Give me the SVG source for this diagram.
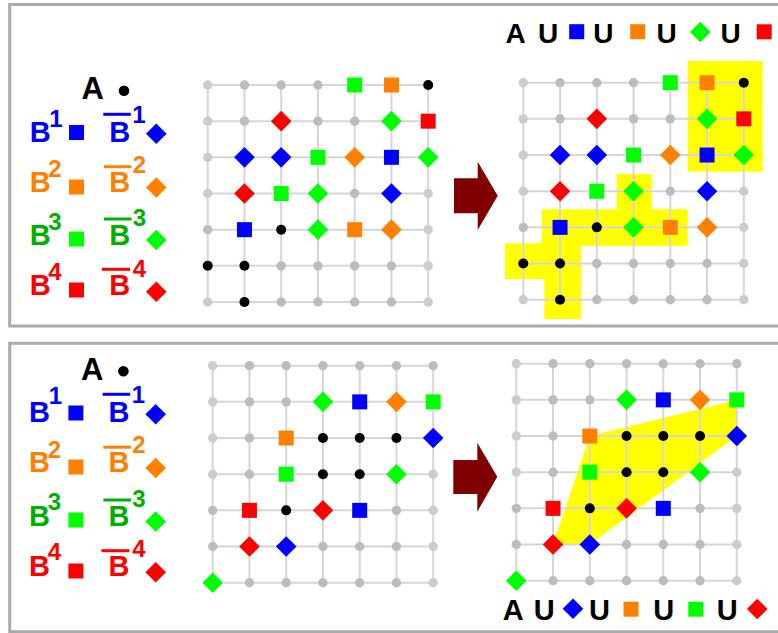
<svg xmlns="http://www.w3.org/2000/svg" xmlns:xlink="http://www.w3.org/1999/xlink" width="778" height="633" viewBox="0 0 778 633">
<defs>
<style>
text{font-family:"Liberation Sans",Arial,sans-serif;font-weight:bold}
.frame{fill:none;stroke:#aaaaaa;stroke-width:3}
.grid{fill:none;stroke:#d6d6d6;stroke-width:2}
.g{fill:#bcbcbc}
.gl{fill:#cccccc}
.k{fill:#000000}
.b{fill:#0000ff}.o{fill:#ff8000}.gr{fill:#00ff00}.r{fill:#ff0000}
.tb{fill:#0000ff}.to{fill:#ff8000}.tg{fill:#00b000}.tr{fill:#ff0000}
.B{font-size:29px;text-anchor:middle}
.S{font-size:24px}
.hl{fill:#ffff00}
.arrow{fill:#800000}
</style>
<rect id="sq" x="-7.5" y="-7.5" width="15" height="15"/>
<path id="dm" d="M0,-10.3L10.3,0L0,10.3L-10.3,0Z"/>
<path id="gridlines" d="M0,0H220.5M0,36.17H220.5M0,72.33H220.5M0,108.5H220.5M0,144.67H220.5M0,180.83H220.5M0,217H220.5M0,0V217M36.75,0V217M73.5,0V217M110.25,0V217M147,0V217M183.75,0V217M220.5,0V217"/>
</defs>
<rect width="778" height="633" fill="#ffffff"/>
<g id="frames">
<rect class="frame" x="9.7" y="4.5" width="800" height="321.5"/>
<rect class="frame" x="9.7" y="343.3" width="800" height="288.4"/>
</g>

<g id="legend-top">
<text x="92.7" y="99" font-size="31" text-anchor="middle">A</text>
<circle class="k" cx="124" cy="90.7" r="5.3"/>
<g id="leg-top-b1">
<text class="tb B" x="40.2" y="141.5">B<tspan class="S" x="56" y="126.5">1</tspan></text>
<use xlink:href="#sq" class="b" x="76.5" y="132.5"/>
<rect class="b" x="103.3" y="112.8" width="27.5" height="3"/>
<text class="tb B" x="119.7" y="141.5">B<tspan class="S" x="139" y="123.3">1</tspan></text>
<use xlink:href="#dm" class="b" x="156.3" y="133.7"/>
</g>
<g id="leg-top-b2">
<text class="to B" x="40.2" y="191.5">B<tspan class="S" x="55" y="177">2</tspan></text>
<use xlink:href="#sq" class="o" x="76.5" y="187"/>
<rect class="o" x="104" y="165.2" width="27.5" height="3"/>
<text class="to B" x="119.7" y="191.5">B<tspan class="S" x="139.5" y="173">2</tspan></text>
<use xlink:href="#dm" class="o" x="156.3" y="187.5"/>
</g>
<g id="leg-top-b3">
<text class="tg B" x="40.2" y="245">B<tspan class="S" x="55" y="230">3</tspan></text>
<use xlink:href="#sq" class="gr" x="76.5" y="239"/>
<rect class="tg" x="104" y="217.5" width="27.5" height="3"/>
<text class="tg B" x="119.7" y="245">B<tspan class="S" x="139.5" y="226">3</tspan></text>
<use xlink:href="#dm" class="gr" x="156.3" y="240"/>
</g>
<g id="leg-top-b4">
<text class="tr B" x="40.2" y="295">B<tspan class="S" x="55" y="280">4</tspan></text>
<use xlink:href="#sq" class="r" x="76.5" y="290"/>
<rect class="r" x="102" y="267.8" width="28" height="3"/>
<text class="tr B" x="119.7" y="295">B<tspan class="S" x="139.5" y="277">4</tspan></text>
<use xlink:href="#dm" class="r" x="156.3" y="291.7"/>
</g>
</g>

<g id="grid-top-left" transform="translate(207.7,85)">
<g class="connectors"><use xlink:href="#gridlines" class="grid"/></g>
<g class="points">
<circle class="gl" cx="0" cy="0" r="4.7"/><circle class="g" cx="36.75" cy="0" r="4.7"/><circle class="g" cx="73.5" cy="0" r="4.7"/><circle class="g" cx="110.25" cy="0" r="4.7"/>
<use xlink:href="#sq" class="gr" x="147" y="0"/><use xlink:href="#sq" class="o" x="183.75" y="0"/><circle class="k" cx="220.5" cy="0" r="5"/>
<circle class="gl" cx="0" cy="36.17" r="4.7"/><circle class="g" cx="36.75" cy="36.17" r="4.7"/><use xlink:href="#dm" class="r" x="73.5" y="36.17"/><circle class="g" cx="110.25" cy="36.17" r="4.7"/><circle class="g" cx="147" cy="36.17" r="4.7"/><use xlink:href="#dm" class="gr" x="183.75" y="36.17"/><use xlink:href="#sq" class="r" x="220.5" y="36.17"/>
<circle class="gl" cx="0" cy="72.33" r="4.7"/><use xlink:href="#dm" class="b" x="36.75" y="72.33"/><use xlink:href="#dm" class="b" x="73.5" y="72.33"/><use xlink:href="#sq" class="gr" x="110.25" y="72.33"/><use xlink:href="#dm" class="o" x="147" y="72.33"/><use xlink:href="#sq" class="b" x="183.75" y="72.33"/><use xlink:href="#dm" class="gr" x="220.5" y="72.33"/>
<circle class="gl" cx="0" cy="108.5" r="4.7"/><use xlink:href="#dm" class="r" x="36.75" y="108.5"/><use xlink:href="#sq" class="gr" x="73.5" y="108.5"/><use xlink:href="#dm" class="gr" x="110.25" y="108.5"/><circle class="g" cx="147" cy="108.5" r="4.7"/><use xlink:href="#dm" class="b" x="183.75" y="108.5"/><circle class="gl" cx="220.5" cy="108.5" r="4.7"/>
<circle class="g" cx="0" cy="144.67" r="4.7"/><use xlink:href="#sq" class="b" x="36.75" y="144.67"/><circle class="k" cx="73.5" cy="144.67" r="5"/><use xlink:href="#dm" class="gr" x="110.25" y="144.67"/><use xlink:href="#sq" class="o" x="147" y="144.67"/><use xlink:href="#dm" class="o" x="183.75" y="144.67"/><circle class="gl" cx="220.5" cy="144.67" r="4.7"/>
<circle class="k" cx="0" cy="180.83" r="5"/><circle class="k" cx="36.75" cy="180.83" r="5"/><circle class="g" cx="73.5" cy="180.83" r="4.7"/><circle class="g" cx="110.25" cy="180.83" r="4.7"/><circle class="g" cx="147" cy="180.83" r="4.7"/><circle class="g" cx="183.75" cy="180.83" r="4.7"/><circle class="gl" cx="220.5" cy="180.83" r="4.7"/>
<circle class="gl" cx="0" cy="217" r="4.7"/><circle class="k" cx="36.75" cy="217" r="5"/><circle class="g" cx="73.5" cy="217" r="4.7"/><circle class="g" cx="110.25" cy="217" r="4.7"/><circle class="g" cx="147" cy="217" r="4.7"/><circle class="g" cx="183.75" cy="217" r="4.7"/><circle class="gl" cx="220.5" cy="217" r="4.7"/>
</g>
</g>

<polygon id="arrow-top" class="arrow" points="454,178.3 477.7,178.3 477.7,161.7 497.7,195.8 477.7,230 477.7,213.3 454,213.3"/>

<g id="header-top">
<text x="515.5" y="43.3" font-size="28" text-anchor="middle">A</text>
<text x="548" y="43.3" font-size="28" text-anchor="middle">U</text>
<use xlink:href="#sq" class="b" x="576.7" y="31.7"/>
<text x="603.3" y="43.3" font-size="28" text-anchor="middle">U</text>
<use xlink:href="#sq" class="o" x="637.7" y="31.7"/>
<text x="666.7" y="43.3" font-size="28" text-anchor="middle">U</text>
<use xlink:href="#dm" class="gr" x="700.3" y="32"/>
<text x="730.5" y="43.3" font-size="28" text-anchor="middle">U</text>
<use xlink:href="#sq" class="r" x="764.2" y="31.8"/>
</g>

<g id="highlight-top">
<rect class="hl" x="687.7" y="61" width="75" height="110.7"/>
<polygon class="hl" points="616.7,174 651.7,174 651.7,209.3 687.7,209.3 687.7,245.7 581,245.7 581,319 544.3,319 544.3,279 505,279 505,243.3 541.7,243.3 541.7,209.3 616.7,209.3"/>
</g>

<g id="grid-top-right" transform="translate(523.3,82.7)">
<g class="connectors"><use xlink:href="#gridlines" class="grid"/></g>
<g class="points">
<circle class="gl" cx="0" cy="0" r="4.7"/><circle class="g" cx="36.75" cy="0" r="4.7"/><circle class="g" cx="73.5" cy="0" r="4.7"/><circle class="g" cx="110.25" cy="0" r="4.7"/>
<use xlink:href="#sq" class="gr" x="147" y="0"/><use xlink:href="#sq" class="o" x="183.75" y="0"/><circle class="k" cx="220.5" cy="0" r="5"/>
<circle class="gl" cx="0" cy="36.17" r="4.7"/><circle class="g" cx="36.75" cy="36.17" r="4.7"/><use xlink:href="#dm" class="r" x="73.5" y="36.17"/><circle class="g" cx="110.25" cy="36.17" r="4.7"/><circle class="g" cx="147" cy="36.17" r="4.7"/><use xlink:href="#dm" class="gr" x="183.75" y="36.17"/><use xlink:href="#sq" class="r" x="220.5" y="36.17"/>
<circle class="gl" cx="0" cy="72.33" r="4.7"/><use xlink:href="#dm" class="b" x="36.75" y="72.33"/><use xlink:href="#dm" class="b" x="73.5" y="72.33"/><use xlink:href="#sq" class="gr" x="110.25" y="72.33"/><use xlink:href="#dm" class="o" x="147" y="72.33"/><use xlink:href="#sq" class="b" x="183.75" y="72.33"/><use xlink:href="#dm" class="gr" x="220.5" y="72.33"/>
<circle class="gl" cx="0" cy="108.5" r="4.7"/><use xlink:href="#dm" class="r" x="36.75" y="108.5"/><use xlink:href="#sq" class="gr" x="73.5" y="108.5"/><use xlink:href="#dm" class="gr" x="110.25" y="108.5"/><circle class="g" cx="147" cy="108.5" r="4.7"/><use xlink:href="#dm" class="b" x="183.75" y="108.5"/><circle class="gl" cx="220.5" cy="108.5" r="4.7"/>
<circle class="g" cx="0" cy="144.67" r="4.7"/><use xlink:href="#sq" class="b" x="36.75" y="144.67"/><circle class="k" cx="73.5" cy="144.67" r="5"/><use xlink:href="#dm" class="gr" x="110.25" y="144.67"/><use xlink:href="#sq" class="o" x="147" y="144.67"/><use xlink:href="#dm" class="o" x="183.75" y="144.67"/><circle class="gl" cx="220.5" cy="144.67" r="4.7"/>
<circle class="k" cx="0" cy="180.83" r="5"/><circle class="k" cx="36.75" cy="180.83" r="5"/><circle class="g" cx="73.5" cy="180.83" r="4.7"/><circle class="g" cx="110.25" cy="180.83" r="4.7"/><circle class="g" cx="147" cy="180.83" r="4.7"/><circle class="g" cx="183.75" cy="180.83" r="4.7"/><circle class="gl" cx="220.5" cy="180.83" r="4.7"/>
<circle class="gl" cx="0" cy="217" r="4.7"/><circle class="k" cx="36.75" cy="217" r="5"/><circle class="g" cx="73.5" cy="217" r="4.7"/><circle class="g" cx="110.25" cy="217" r="4.7"/><circle class="g" cx="147" cy="217" r="4.7"/><circle class="g" cx="183.75" cy="217" r="4.7"/><circle class="gl" cx="220.5" cy="217" r="4.7"/>
</g>
</g>

<g id="legend-bottom" transform="translate(-0.6,280.5)">
<text x="92.7" y="99" font-size="31" text-anchor="middle">A</text>
<circle class="k" cx="124" cy="90.7" r="5.3"/>
<g id="leg-bot-b1">
<text class="tb B" x="40.2" y="141.5">B<tspan class="S" x="56" y="123.5">1</tspan></text>
<use xlink:href="#sq" class="b" x="76.5" y="132.5"/>
<rect class="b" x="103.3" y="112.3" width="27.5" height="3"/>
<text class="tb B" x="119.7" y="141.5">B<tspan class="S" x="139" y="122.5">1</tspan></text>
<use xlink:href="#dm" class="b" x="156.3" y="133.7"/>
</g>
<g id="leg-bot-b2">
<text class="to B" x="40.2" y="191.5">B<tspan class="S" x="55" y="177">2</tspan></text>
<use xlink:href="#sq" class="o" x="76.5" y="186.5"/>
<rect class="o" x="104" y="165.2" width="27.5" height="3"/>
<text class="to B" x="119.7" y="191.5">B<tspan class="S" x="139.5" y="172.5">2</tspan></text>
<use xlink:href="#dm" class="o" x="156.3" y="187.5"/>
</g>
<g id="leg-bot-b3">
<text class="tg B" x="40.2" y="245">B<tspan class="S" x="55" y="229">3</tspan></text>
<use xlink:href="#sq" class="gr" x="76.5" y="239.5"/>
<rect class="tg" x="104" y="218" width="27.5" height="3"/>
<text class="tg B" x="119.7" y="245">B<tspan class="S" x="139.5" y="226">3</tspan></text>
<use xlink:href="#dm" class="gr" x="156.3" y="241"/>
</g>
<g id="leg-bot-b4">
<text class="tr B" x="40.2" y="295.5">B<tspan class="S" x="55" y="279.5">4</tspan></text>
<use xlink:href="#sq" class="r" x="76.5" y="290.5"/>
<rect class="r" x="102" y="268.7" width="28" height="3"/>
<text class="tr B" x="119.7" y="295.5">B<tspan class="S" x="139.5" y="276.2">4</tspan></text>
<use xlink:href="#dm" class="r" x="156.3" y="291.8"/>
</g>
</g>

<g id="grid-bottom-left" transform="translate(212.7,365.7)">
<g class="connectors"><use xlink:href="#gridlines" class="grid"/></g>
<g class="points">
<circle class="gl" cx="0" cy="0" r="4.7"/><circle class="g" cx="36.75" cy="0" r="4.7"/><circle class="g" cx="73.5" cy="0" r="4.7"/><circle class="g" cx="110.25" cy="0" r="4.7"/><circle class="g" cx="147" cy="0" r="4.7"/><circle class="g" cx="183.75" cy="0" r="4.7"/><circle class="g" cx="220.5" cy="0" r="4.7"/>
<circle class="gl" cx="0" cy="36.17" r="4.7"/><circle class="g" cx="36.75" cy="36.17" r="4.7"/><circle class="g" cx="73.5" cy="36.17" r="4.7"/><use xlink:href="#dm" class="gr" x="110.25" y="36.17"/><use xlink:href="#sq" class="b" x="147" y="36.17"/><use xlink:href="#dm" class="o" x="183.75" y="36.17"/><use xlink:href="#sq" class="gr" x="220.5" y="36.17"/>
<circle class="gl" cx="0" cy="72.33" r="4.7"/><circle class="g" cx="36.75" cy="72.33" r="4.7"/><use xlink:href="#sq" class="o" x="73.5" y="72.33"/><circle class="k" cx="110.25" cy="72.33" r="5"/><circle class="k" cx="147" cy="72.33" r="5"/><circle class="k" cx="183.75" cy="72.33" r="5"/><use xlink:href="#dm" class="b" x="220.5" y="72.33"/>
<circle class="gl" cx="0" cy="108.5" r="4.7"/><circle class="g" cx="36.75" cy="108.5" r="4.7"/><use xlink:href="#sq" class="gr" x="73.5" y="108.5"/><circle class="k" cx="110.25" cy="108.5" r="5"/><circle class="k" cx="147" cy="108.5" r="5"/><use xlink:href="#dm" class="gr" x="183.75" y="108.5"/><circle class="gl" cx="220.5" cy="108.5" r="4.7"/>
<circle class="g" cx="0" cy="144.67" r="4.7"/><use xlink:href="#sq" class="r" x="36.75" y="144.67"/><circle class="k" cx="73.5" cy="144.67" r="5"/><use xlink:href="#dm" class="r" x="110.25" y="144.67"/><use xlink:href="#sq" class="b" x="147" y="144.67"/><circle class="g" cx="183.75" cy="144.67" r="4.7"/><circle class="gl" cx="220.5" cy="144.67" r="4.7"/>
<circle class="g" cx="0" cy="180.83" r="4.7"/><use xlink:href="#dm" class="r" x="36.75" y="180.83"/><use xlink:href="#dm" class="b" x="73.5" y="180.83"/><circle class="g" cx="110.25" cy="180.83" r="4.7"/><circle class="g" cx="147" cy="180.83" r="4.7"/><circle class="g" cx="183.75" cy="180.83" r="4.7"/><circle class="gl" cx="220.5" cy="180.83" r="4.7"/>
<use xlink:href="#dm" class="gr" x="0" y="217"/><circle class="g" cx="36.75" cy="217" r="4.7"/><circle class="g" cx="73.5" cy="217" r="4.7"/><circle class="g" cx="110.25" cy="217" r="4.7"/><circle class="g" cx="147" cy="217" r="4.7"/><circle class="g" cx="183.75" cy="217" r="4.7"/><circle class="gl" cx="220.5" cy="217" r="4.7"/>
</g>
</g>

<polygon id="arrow-bottom" class="arrow" points="453.3,460 477.3,460 477.3,442.7 497.3,476.8 477.3,511.7 477.3,494 453.3,494"/>

<polygon id="highlight-bottom" class="hl" points="589.8,436 736.8,399.9 736.8,436 589.8,544.5 553,544.5"/>

<g id="grid-bottom-right" transform="translate(516.3,363.7)">
<g class="connectors"><use xlink:href="#gridlines" class="grid"/></g>
<g class="points">
<circle class="gl" cx="0" cy="0" r="4.7"/><circle class="g" cx="36.75" cy="0" r="4.7"/><circle class="g" cx="73.5" cy="0" r="4.7"/><circle class="g" cx="110.25" cy="0" r="4.7"/><circle class="g" cx="147" cy="0" r="4.7"/><circle class="g" cx="183.75" cy="0" r="4.7"/><circle class="g" cx="220.5" cy="0" r="4.7"/>
<circle class="gl" cx="0" cy="36.17" r="4.7"/><circle class="g" cx="36.75" cy="36.17" r="4.7"/><circle class="g" cx="73.5" cy="36.17" r="4.7"/><use xlink:href="#dm" class="gr" x="110.25" y="36.17"/><use xlink:href="#sq" class="b" x="147" y="36.17"/><use xlink:href="#dm" class="o" x="183.75" y="36.17"/><use xlink:href="#sq" class="gr" x="220.5" y="36.17"/>
<circle class="gl" cx="0" cy="72.33" r="4.7"/><circle class="g" cx="36.75" cy="72.33" r="4.7"/><use xlink:href="#sq" class="o" x="73.5" y="72.33"/><circle class="k" cx="110.25" cy="72.33" r="5"/><circle class="k" cx="147" cy="72.33" r="5"/><circle class="k" cx="183.75" cy="72.33" r="5"/><use xlink:href="#dm" class="b" x="220.5" y="72.33"/>
<circle class="gl" cx="0" cy="108.5" r="4.7"/><circle class="g" cx="36.75" cy="108.5" r="4.7"/><use xlink:href="#sq" class="gr" x="73.5" y="108.5"/><circle class="k" cx="110.25" cy="108.5" r="5"/><circle class="k" cx="147" cy="108.5" r="5"/><use xlink:href="#dm" class="gr" x="183.75" y="108.5"/><circle class="gl" cx="220.5" cy="108.5" r="4.7"/>
<circle class="g" cx="0" cy="144.67" r="4.7"/><use xlink:href="#sq" class="r" x="36.75" y="144.67"/><circle class="k" cx="73.5" cy="144.67" r="5"/><use xlink:href="#dm" class="r" x="110.25" y="144.67"/><use xlink:href="#sq" class="b" x="147" y="144.67"/><circle class="g" cx="183.75" cy="144.67" r="4.7"/><circle class="gl" cx="220.5" cy="144.67" r="4.7"/>
<circle class="g" cx="0" cy="180.83" r="4.7"/><use xlink:href="#dm" class="r" x="36.75" y="180.83"/><use xlink:href="#dm" class="b" x="73.5" y="180.83"/><circle class="g" cx="110.25" cy="180.83" r="4.7"/><circle class="g" cx="147" cy="180.83" r="4.7"/><circle class="g" cx="183.75" cy="180.83" r="4.7"/><circle class="gl" cx="220.5" cy="180.83" r="4.7"/>
<use xlink:href="#dm" class="gr" x="0" y="217"/><circle class="g" cx="36.75" cy="217" r="4.7"/><circle class="g" cx="73.5" cy="217" r="4.7"/><circle class="g" cx="110.25" cy="217" r="4.7"/><circle class="g" cx="147" cy="217" r="4.7"/><circle class="g" cx="183.75" cy="217" r="4.7"/><circle class="gl" cx="220.5" cy="217" r="4.7"/>
</g>
</g>

<g id="footer-bottom">
<text x="513.3" y="620" font-size="29" text-anchor="middle">A</text>
<text x="544.2" y="620" font-size="29" text-anchor="middle">U</text>
<use xlink:href="#dm" class="b" x="573" y="608.7"/>
<text x="599.5" y="620" font-size="29" text-anchor="middle">U</text>
<use xlink:href="#sq" class="o" x="631" y="609.2"/>
<text x="663.8" y="620" font-size="29" text-anchor="middle">U</text>
<use xlink:href="#sq" class="gr" x="695.8" y="609.2"/>
<text x="727.2" y="620" font-size="29" text-anchor="middle">U</text>
<use xlink:href="#dm" class="r" x="757.2" y="609"/>
</g>
</svg>
